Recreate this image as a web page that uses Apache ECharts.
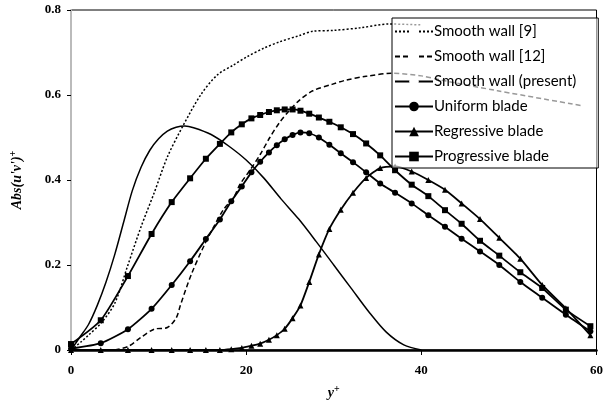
<!DOCTYPE html>
<html>
<head>
<meta charset="utf-8">
<script src="https://cdn.jsdelivr.net/npm/echarts@6/dist/echarts.min.js"></script>
<style>
  html, body { margin: 0; padding: 0; background: #fff; }
  #chart { width: 606px; height: 405px; }
</style>
</head>
<body>
<div id="chart"></div>
<script>
// y+ positions of the blade data points
const yPlusBlade = [0, 3.4, 6.5, 9.2, 11.5, 13.6, 15.4, 17.0, 18.3, 19.5, 20.6, 21.6, 22.6, 23.5, 24.4, 25.3, 26.2, 27.2, 28.3, 29.5, 30.8, 32.2, 33.7, 35.3, 37.0, 38.9, 40.8, 42.7, 44.6, 46.7, 48.9, 51.3, 53.8, 56.5, 59.3];
const uniformBlade = [0.003, 0.016, 0.049, 0.097, 0.153, 0.209, 0.261, 0.307, 0.350, 0.385, 0.418, 0.443, 0.465, 0.482, 0.496, 0.506, 0.512, 0.510, 0.500, 0.483, 0.463, 0.442, 0.418, 0.392, 0.370, 0.345, 0.317, 0.290, 0.262, 0.232, 0.200, 0.160, 0.123, 0.083, 0.044];
const regressiveBlade = [0, 0, 0, 0, 0, 0, 0, 0, 0.002, 0.005, 0.010, 0.015, 0.024, 0.035, 0.050, 0.075, 0.105, 0.160, 0.225, 0.285, 0.330, 0.370, 0.405, 0.428, 0.432, 0.420, 0.400, 0.377, 0.345, 0.308, 0.264, 0.215, 0.153, 0.098, 0.035];
const progressiveBlade = [0.014, 0.070, 0.174, 0.273, 0.348, 0.404, 0.450, 0.485, 0.512, 0.531, 0.545, 0.553, 0.560, 0.564, 0.566, 0.566, 0.563, 0.556, 0.547, 0.537, 0.524, 0.508, 0.486, 0.458, 0.423, 0.389, 0.362, 0.329, 0.297, 0.257, 0.222, 0.183, 0.146, 0.095, 0.056];

// Smooth wall [9]
const yPlusRef9 = [0, 1.2, 2, 3.5, 5, 6.5, 8, 9.5, 11, 12.8, 14.8, 16.7, 18.5, 20.1, 22, 23.8, 26.1, 27.6, 30, 33, 36.3, 40];
const ref9 = [0, 0.02, 0.035, 0.065, 0.11, 0.2, 0.29, 0.37, 0.454, 0.528, 0.6, 0.647, 0.67, 0.69, 0.71, 0.725, 0.74, 0.75, 0.752, 0.758, 0.767, 0.765];

// Smooth wall [12]
const yPlusRef12 = [5, 6.5, 8, 9.5, 11, 12, 12.5, 13.7, 15.2, 16.3, 17.4, 18.6, 19.3, 20.5, 21.6, 22.7, 23.8, 25, 26.1, 27.6, 29.8, 31.4, 33.7, 36.6, 40, 42.3, 48.7, 58.3];
const ref12 = [0, 0.008, 0.03, 0.049, 0.053, 0.075, 0.106, 0.176, 0.246, 0.29, 0.33, 0.36, 0.39, 0.425, 0.46, 0.5, 0.535, 0.565, 0.588, 0.61, 0.625, 0.635, 0.644, 0.651, 0.645, 0.635, 0.61, 0.575];

// Smooth wall (present)
const yPlusPresent = [0, 1, 2, 3, 4, 5, 6, 7, 8, 9, 10, 11, 12, 13, 14, 16, 18, 20, 22, 24, 26, 28, 30, 32, 34, 36, 38, 40];
const present = [0, 0.03, 0.06, 0.105, 0.16, 0.225, 0.3, 0.375, 0.43, 0.47, 0.497, 0.515, 0.524, 0.527, 0.523, 0.507, 0.48, 0.447, 0.405, 0.355, 0.308, 0.255, 0.2, 0.145, 0.09, 0.042, 0.012, 0];

const seriesNames = ['Smooth wall [9]', 'Smooth wall [12]', 'Smooth wall (present)', 'Uniform blade', 'Regressive blade', 'Progressive blade'];

function pairs(xs, ys) {
    return xs.map((x, i) => [x, ys[i]]);
}

const chart = echarts.init(document.getElementById('chart'));
const serif = 'Liberation Serif';

const baseLine = { color: '#000', width: 1.5 };
const nameRich = {
    i: { fontFamily: serif, fontWeight: 'bold', fontStyle: 'italic', fontSize: 14, color: '#000' },
    s: { fontFamily: serif, fontWeight: 'bold', fontSize: 10, color: '#000', verticalAlign: 'top', padding: [0, 0, 8, 0] }
};

chart.setOption({
    animation: false,
    grid: { left: 69, right: 7, top: 10, bottom: 49, show: true, borderColor: '#000', borderWidth: 1 },
    legend: {
        orient: 'vertical',
        left: 392,
        top: 18,
        padding: [6, 22, 4, 2],
        itemGap: 10,
        itemWidth: 38,
        itemHeight: 12,
        backgroundColor: 'rgba(255,255,255,0.6)',
        borderColor: '#000',
        borderWidth: 1,
        textStyle: { fontFamily: 'Lato', fontSize: 15, color: '#000', padding: [0, 0, 0, -4] },
        // the plain lines get no marker in the key
        data: seriesNames.map((n, i) => (i < 3
            ? { name: n, itemStyle: { color: 'rgba(0,0,0,0)', borderWidth: 0 } }
            : { name: n }))
    },
    xAxis: {
        type: 'value',
        min: 0, max: 60, interval: 20,
        name: '{i|y}{s|+}',
        nameLocation: 'middle',
        nameGap: 34,
        nameTextStyle: { rich: nameRich },
        axisLine: { lineStyle: { color: '#000', width: 2.5 } },
        axisTick: { show: true, length: 5, lineStyle: { color: '#000' } },
        axisLabel: { margin: 14, fontFamily: serif, fontWeight: 'bold', fontSize: 13, color: '#000' },
        splitLine: { show: false }
    },
    yAxis: {
        type: 'value',
        min: 0, max: 0.8, interval: 0.2,
        name: '{i|Abs(u\'v\')}{s|+}',
        nameLocation: 'middle',
        nameGap: 45,
        nameRotate: 90,
        nameTextStyle: { rich: nameRich },
        axisLine: { show: true, lineStyle: { color: '#bbb', width: 2 } },
        axisTick: { show: true, inside: false, length: 4, lineStyle: { color: '#000' } },
        axisLabel: {
            margin: 10, fontFamily: serif, fontWeight: 'bold', fontSize: 13, color: '#000',
            formatter: v => (v === 0 ? '0' : v.toFixed(1))
        },
        splitLine: { show: false }
    },
    series: [
        {
            name: seriesNames[0], type: 'line', smooth: 0.3, showSymbol: false,
            lineStyle: Object.assign({}, baseLine, { type: [2, 2] }), itemStyle: { color: '#000' },
            data: pairs(yPlusRef9, ref9)
        },
        {
            name: seriesNames[1], type: 'line', smooth: 0.3, showSymbol: false,
            lineStyle: Object.assign({}, baseLine, { type: [5, 3] }), itemStyle: { color: '#000' },
            data: pairs(yPlusRef12, ref12)
        },
        {
            name: seriesNames[2], type: 'line', smooth: 0.3, showSymbol: false,
            lineStyle: Object.assign({}, baseLine, { width: 1.5 }), itemStyle: { color: '#000' },
            data: pairs(yPlusPresent, present)
        },
        {
            name: seriesNames[3], type: 'line', smooth: 0.2, symbol: 'circle', symbolSize: 6,
            lineStyle: Object.assign({}, baseLine, { width: 1.8 }), itemStyle: { color: '#000' },
            data: pairs(yPlusBlade, uniformBlade)
        },
        {
            name: seriesNames[4], type: 'line', smooth: 0.2, symbol: 'triangle', symbolSize: 6,
            lineStyle: Object.assign({}, baseLine, { width: 1.8 }), itemStyle: { color: '#000' },
            data: pairs(yPlusBlade, regressiveBlade)
        },
        {
            name: seriesNames[5], type: 'line', smooth: 0.2, symbol: 'rect', symbolSize: 6,
            lineStyle: Object.assign({}, baseLine, { width: 1.8 }), itemStyle: { color: '#000' },
            data: pairs(yPlusBlade, progressiveBlade)
        }
    ]
});
</script>
</body>
</html>
